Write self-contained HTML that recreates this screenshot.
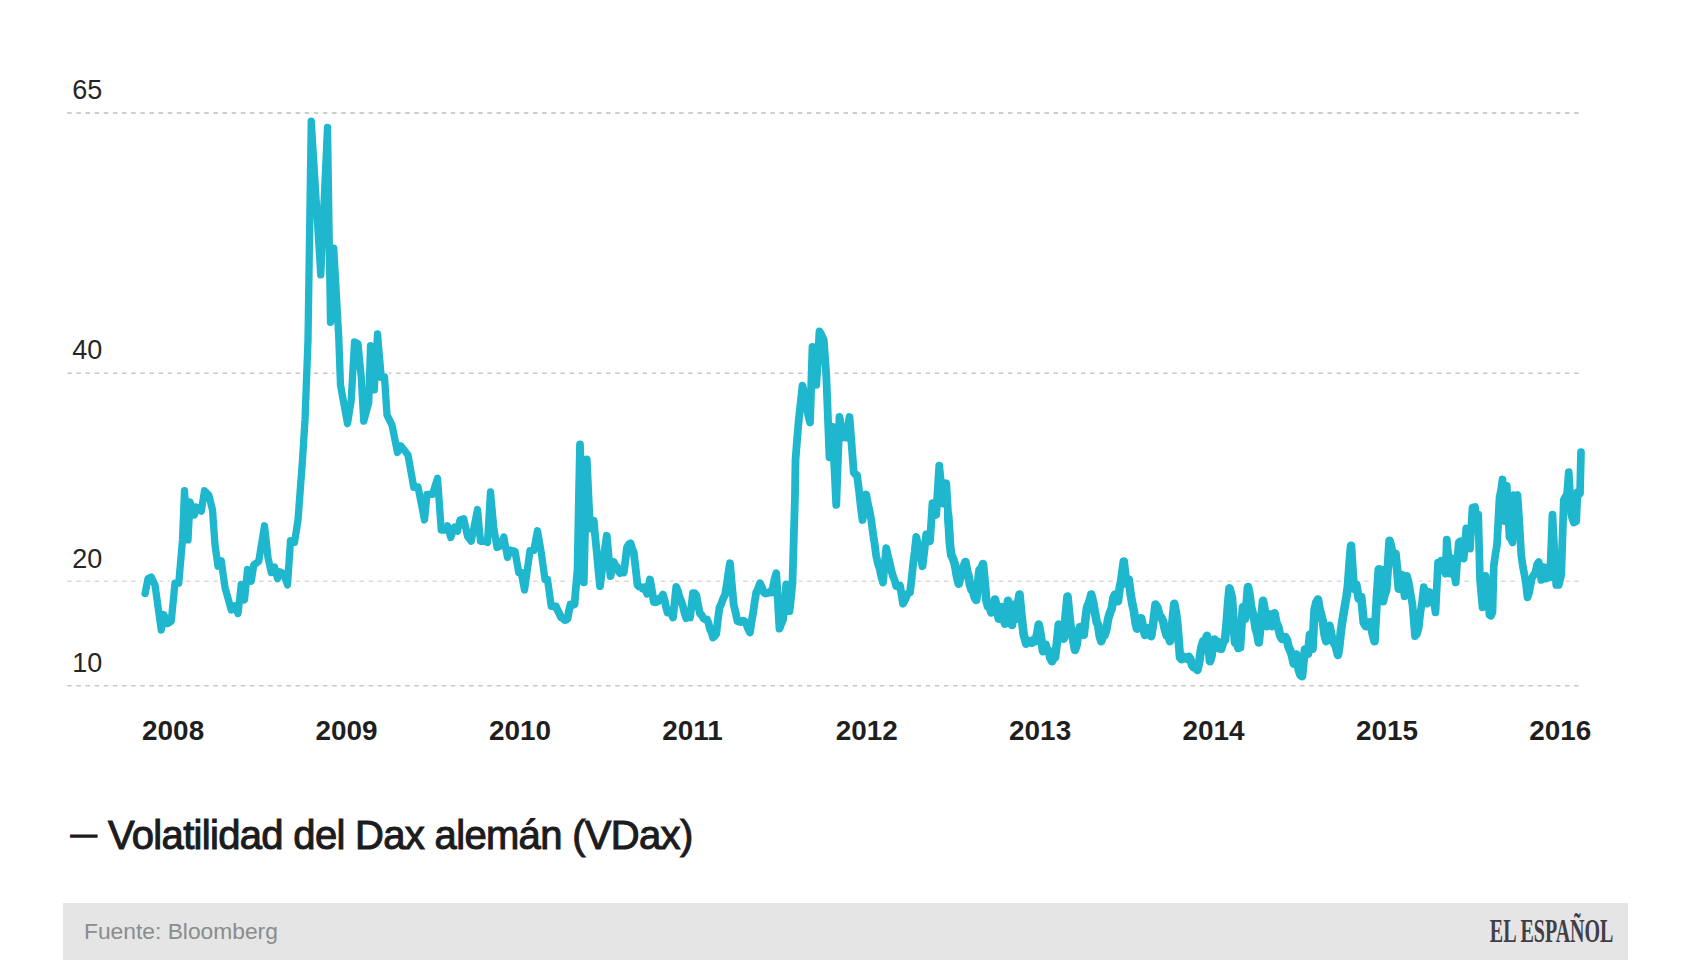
<!DOCTYPE html>
<html lang="es"><head><meta charset="utf-8"><title>Volatilidad del Dax alemán (VDax)</title>
<style>
html,body{margin:0;padding:0;background:#fff;}
body{width:1706px;height:960px;position:relative;overflow:hidden;font-family:"Liberation Sans",sans-serif;}
svg{position:absolute;left:0;top:0;}
.grid line{stroke-dasharray:4.5 4.6325;stroke-dashoffset:-0.25;}
.yl{position:absolute;left:72.3px;font-size:27px;line-height:30px;height:30px;color:#262626;white-space:nowrap;}
.yr{position:absolute;top:715.1px;font-size:27.9px;line-height:32px;font-weight:bold;color:#1f1f1f;white-space:nowrap;}
.title{position:absolute;left:108px;top:812px;font-size:40px;line-height:46px;color:#1c1c1e;white-space:nowrap;letter-spacing:-0.68px;-webkit-text-stroke:1.05px #1c1c1e;}
.dash{position:absolute;left:70.8px;top:817.8px;font-size:26px;line-height:32px;color:#1c1c1e;-webkit-text-stroke:1.5px #1c1c1e;}
.foot{position:absolute;left:63px;top:903px;width:1565px;height:57px;background:#e5e5e5;}
.src{position:absolute;left:21px;top:14px;font-size:22.8px;line-height:28px;color:#8a8c8e;white-space:nowrap;}
.logo{position:absolute;right:14.8px;top:7.2px;font-family:"Liberation Serif",serif;font-weight:bold;font-size:34.4px;line-height:40px;color:#423e48;white-space:nowrap;transform:scaleX(0.582);transform-origin:100% 50%;}
</style></head><body>
<svg width="1706" height="960" viewBox="0 0 1706 960">
<g class="grid">
<line x1="67" x2="1579" y1="113" y2="113" stroke="#bdbdbd" stroke-width="1.6"/>
<line x1="67" x2="1579" y1="373.25" y2="373.25" stroke="#c8c8c8" stroke-width="1.6"/>
<line x1="67" x2="1579" y1="581.25" y2="581.25" stroke="#ded9d7" stroke-width="1.3"/>
<line x1="67" x2="1579" y1="685.75" y2="685.75" stroke="#c8c8c8" stroke-width="1.6"/>
</g>
<polyline fill="none" stroke="#ffffff" stroke-opacity="0.85" stroke-width="12" stroke-linejoin="round" stroke-linecap="round" points="145.1,593.5 148,578.75 151.25,577 155,585 161.25,629.95 163.75,614.5 167.5,623.7 171.25,621.25 175,583.12 178.75,583.12 182.5,540 184.5,490.75 188,539.95 190,502 194.5,514.95 196.25,507 201.25,511.2 204.5,490.75 208.75,495 212.5,510 215,545 218,566.2 221.25,560.75 225,587.5 231.25,609.95 235,605.75 238,613.7 241.25,584.5 244.5,599.95 247.5,569.5 251.25,581.2 253.75,565 258.75,561.25 264.5,525.75 268,557.5 271.25,572.45 274.5,567 277.5,578.7 280,571.88 283.75,573.75 287.5,584.95 290.5,540.75 294.5,542.45 298,520 302.5,460 305,420 308,340 311.25,121.15 320.75,274.95 327.5,127.4 330.5,322.45 333.75,248.25 338.75,337.5 340.5,385 347.5,423.7 351.25,400 354.5,341.88 358,343.75 361.25,377.5 363.75,421.2 368.75,402.5 370.5,345.75 374.25,389.95 377.5,334 381.25,377.45 384.5,376.88 387,415 392,425 397.5,452.45 400.75,445.75 408,455 413.75,487.45 418,486.88 424.5,519.95 427,494.38 432.5,494.38 437.5,478.25 441.25,530 445.5,530 447.5,525.75 450.75,537.45 454.5,527 457.5,531.2 460,520 463.75,518.75 467.5,536.25 471.25,541.2 477.5,509.5 480.5,541.25 485,541.25 487.5,542.45 490.5,492 493.75,527.5 497,547.5 500,546.25 503.75,537 507.5,557.45 510,550 515,551.25 518.75,572.5 521.25,572.5 524.5,589.95 530,550.62 533.75,550.62 537.5,530.75 541.25,552.5 545,579.38 547.5,579.38 551.25,606.25 556,606.25 556.25,607.5 561.25,617.5 562.88,618.15 564.5,620 566,619.88 567.5,618.75 569,610.78 570.5,604.38 572.5,604.84 574.5,604.38 576,586.47 577.5,570 580,444.5 581.88,514.1 583.75,582.45 585.25,520.52 586.75,459.5 588.38,494.8 590,528.7 591.88,524.28 593.75,520.75 595.31,537.78 596.88,553.02 598.44,570.31 600,586.2 601.69,572.93 603.38,561.86 605.06,547.87 606.75,535.75 608.62,556.52 610.5,576.2 612.12,568.33 613.75,562 615.31,565.73 616.88,566.82 618.44,570.98 620,573.12 621.88,571.84 623.75,572.5 625.38,560.45 627,547.5 628.75,544.47 630.5,543.25 632.12,548.46 633.75,552.5 635.62,568.25 637.5,585 639.17,586.72 640.83,586.87 642.5,588.7 645,587 647,593.7 648.5,587.48 650,579.5 651.88,590.17 653.75,601.88 655.88,602.31 658,601.25 659.67,598.22 661.33,597.38 663,594.5 664.5,599.76 666,606.92 667.5,612.45 670,610.75 671.5,613.65 673,617.45 674.62,602.76 676.25,587 677.92,590.95 679.58,597.16 681.25,601.25 682.92,606.28 684.58,613.24 686.25,618.12 688.12,617.14 690,617.5 691.5,605.9 693,593.12 694.62,593.2 696.25,595 698.12,605.19 700,613.75 701.67,615.07 703.33,618.25 705,619.38 707,619.38 708.5,623.18 710,629.33 711.5,632.1 713,637.45 714.62,636.18 716.25,633.75 717.88,619.66 719.5,607.5 721.33,603.82 723.17,598.51 725,595 726.67,585.26 728.33,573.33 730,563.25 731.88,584.82 733.75,605 735.62,612.68 737.5,621.25 740,621.88 741.5,622.04 743,620.62 744.62,621.34 746.25,623.75 748.12,628.84 750,632.45 751.56,621.55 753.12,613.07 754.69,601.68 756.25,592.5 758.12,588.63 760,583.25 761.88,587.13 763.75,592.5 765.62,593.49 767.5,593.12 769.38,591.92 771.25,592.5 772.92,587.03 774.58,578.98 776.25,573.25 777.88,601.77 779.5,628.7 781.25,623.9 783,620 784.62,603.06 786.25,584.5 787.88,597.07 789.5,611.2 791,597.83 792.5,582.5 795,495 795.5,460 797.12,439.12 798.75,420 800.62,403.45 802.5,385.75 804.38,394.74 806.25,405 808.12,414.52 810,422.45 812.5,347 814.38,365.54 816.25,384.95 817.88,358.9 819.5,331.5 821.62,335.24 823.75,340 826.25,375 827.88,416.71 829.5,457.45 831,441.77 832.5,427 834.38,466.83 836.25,504.95 837.88,460.48 839.5,417 841.25,427.81 843,437.5 844.62,436.86 846.25,437.5 847.88,428.16 849.5,417 851.62,444.28 853.75,472.5 855.38,474.42 857,475 858.83,489.26 860.67,505.88 862.5,519.95 864.38,506.35 866.25,494.5 867.92,503.9 869.58,510.92 871.25,520 872.92,532.74 874.58,543.55 876.25,556.25 877.94,563.72 879.62,568.39 881.31,576.4 883,582.45 884.62,564.83 886.25,548.25 887.92,556.05 889.58,562.2 891.25,570 892.92,576.09 894.58,580.05 896.25,586.2 898.12,586.48 900,585.62 901.5,594.24 903,603.7 905,600 907,595 908.5,593.12 910,592.5 911.56,579.36 913.12,563.8 914.69,551.68 916.25,537 917.81,543.59 919.38,552.37 920.94,558.1 922.5,566.2 924.38,550.8 926.25,534.5 928.12,536.93 930,541.2 932.5,503.25 934.38,509.96 936.25,514.95 937.75,489.44 939.25,465.75 941.12,485.59 943,503.7 944.62,492.84 946.25,483.25 948.12,514.77 950,545 951.25,555 953.12,558.84 955,565 956.88,576.23 958.75,583.7 960.44,577.17 962.12,573.96 963.81,566.12 965.5,562 967,570.91 968.5,575.85 970,585 971.56,589.83 973.12,591.45 974.69,597.44 976.25,599.95 977.88,583.82 979.5,570 981.25,568.51 983,564 984.62,580.95 986.25,600 987.92,606.36 989.58,606.44 991.25,612.45 993.12,607.2 995,599.5 996.88,607.74 998.75,618.7 1001.25,607 1003.12,616.84 1005,623.7 1006.5,610.71 1008,600.75 1010,614.04 1012,624.95 1014.5,604.5 1016.25,618.7 1017.88,604.43 1019.5,594.5 1021.62,617.12 1023.75,635 1026.25,643.7 1028.12,640.82 1030,641.25 1031.83,642.93 1033.67,640.11 1035.5,641.25 1037.12,634.03 1038.75,624.5 1040.88,636.36 1043,651.2 1045.5,644.5 1047.12,650.06 1048.75,650.7 1050.38,658.26 1052,661.2 1053.5,658.3 1055,657.5 1056.88,643.31 1058.75,624.5 1060.42,627.49 1062.08,635.19 1063.75,638.7 1065.62,615.84 1067.5,596.5 1069.38,615.56 1071.25,632.5 1073.12,639.49 1075,649.95 1076.67,644.65 1078.33,632.46 1080,627 1081.88,632.94 1083.75,634.95 1085.38,619.85 1087,607.5 1089.12,602.52 1091.25,594.5 1093.12,602.25 1095,612.5 1096.56,621.74 1098.12,625.11 1099.69,636.1 1101.25,641.2 1102.92,636 1104.58,635.06 1106.25,630 1108.12,619.13 1110,612.5 1111.67,608.86 1113.33,598.32 1115,594.5 1116.5,599.97 1118,601.2 1119.62,588.47 1121.25,580 1123.75,561.5 1126.25,583.7 1128.75,579.5 1130.62,594.28 1132.5,605 1134,611.57 1135.5,622.52 1137,628.7 1139.12,621.97 1141.25,618.25 1143.12,627.66 1145,634.95 1147.5,628.25 1149.38,631.17 1151.25,636.2 1153.38,621.75 1155.5,604.5 1157.42,607.46 1159.33,615.13 1161.25,617.5 1163.12,621.43 1165,630 1166.67,635.36 1168.33,635.17 1170,641.2 1172.12,624.84 1174.25,603.75 1175.88,612.06 1177.5,625 1180,657.5 1181.67,659.22 1183.33,656.59 1185,658.12 1186.88,658.83 1188.75,656.88 1190.42,659.13 1192.08,665.26 1193.75,667.5 1195.62,666.86 1197.5,669.95 1199.38,660.97 1201.25,647.5 1203.17,641.42 1205.08,641.34 1207,635.75 1208.5,646.57 1210,661.2 1211.5,656.07 1213,645.6 1214.5,639.5 1216.19,643.72 1217.88,641.84 1219.56,648.48 1221.25,648.7 1223.12,642.31 1225,640 1226.5,624.42 1228,604.24 1229.5,588.25 1232,597.5 1233.5,622.09 1235,642.5 1236.67,642.68 1238.33,647.91 1240,647.45 1241.5,624.88 1243,607 1245,618.7 1246.5,604.41 1248,587 1249.5,593.93 1251,606.31 1252.5,612.5 1254.06,617.98 1255.62,628.73 1257.19,633.77 1258.75,642.45 1260.88,622.83 1263,600.75 1265,611.22 1267,626.2 1269.5,614.5 1272,626.2 1274.5,613.25 1276.33,622.62 1278.17,626.53 1280,635 1281.88,639.02 1283.75,638.75 1285.38,637.02 1287,640 1288.5,646.91 1290,650 1291.88,655.35 1293.75,663.7 1296.25,654.5 1298.75,670 1300.38,674.87 1302,676.2 1303.5,661.65 1305,649.5 1306.5,652.64 1308,653.7 1310,634.5 1312.5,648.7 1314.5,610 1316.25,602.41 1318,599.5 1319.62,609.15 1321.25,615 1322.92,622 1324.58,634.76 1326.25,641.2 1327.88,631.87 1329.5,625.75 1331.62,636.33 1333.75,642.5 1335.88,646.58 1338,654.95 1339.5,644.61 1341,630.29 1342.5,620 1345,605 1346.5,596.42 1348,585 1349.5,564.03 1351,545.75 1353.75,588.7 1356.25,584.5 1358.75,598.7 1361.25,597 1363.75,622.5 1365.62,626.17 1367.5,626.2 1369,622.73 1370.5,622 1372.5,633.19 1374.5,641.2 1377,595 1378.75,569.38 1381.25,570 1383,601.2 1384.62,594.4 1386.25,590 1387.88,567.63 1389.5,540.75 1391,545.75 1392.5,553.75 1394,555.39 1395.5,553.75 1397.12,569.41 1398.75,588.7 1400.38,583.85 1402,574.5 1404.5,596.2 1407,575.75 1408.5,581.28 1410,590 1412.5,605 1415,636.2 1416.88,634.12 1418.75,627.5 1420.42,612.3 1422.08,602.24 1423.75,587 1425.62,593.62 1427.5,603.7 1429.5,592 1431,594.55 1432.5,595 1434,602.11 1435.5,612.45 1438,562.5 1439.5,563.35 1441,560.64 1442.5,561.25 1444,569.58 1445.5,573.7 1446.75,539.5 1448.38,555.35 1450,573.7 1452,558.25 1453.88,572.01 1455.75,582.45 1457.25,560.47 1458.75,542.5 1460.5,541.25 1462.12,551.75 1463.75,558.7 1466.25,528.25 1468.12,537.01 1470,548.7 1472.5,507.5 1475,506.88 1477,528.7 1478.25,514.5 1480,580 1482.5,607.45 1484,593.32 1485.5,575.75 1487.5,593.57 1489.5,614.95 1491,615.81 1492.5,612.5 1493.75,566.25 1495.38,554.46 1497,545 1499.5,497.5 1501,490.28 1502.5,479.5 1505,521.2 1506.75,485.75 1509.5,537.5 1511,538.62 1512.5,542.45 1513.75,495 1515.62,496.4 1517.5,495 1519.38,522.93 1521.25,555 1522.88,566.71 1524.5,575 1526,584.44 1527.5,597.45 1529,593.28 1530.5,585 1532.12,577.74 1533.75,575 1535.42,572.29 1537.08,564.48 1538.75,562 1541.25,579.95 1543.75,567 1546.25,578.7 1548.75,567 1550,577.45 1552.5,514.5 1554.38,551.46 1556.25,585 1558.75,585 1561.25,575 1563.75,500 1565.25,497.03 1566.75,497.5 1568.75,472 1571.25,515 1573.75,522.5 1576.25,521.25 1577.5,492 1580,493.7 1581,452"/>
<polyline fill="none" stroke="#1eb7cd" stroke-width="7.3" stroke-linejoin="round" stroke-linecap="round" points="145.1,593.5 148,578.75 151.25,577 155,585 161.25,629.95 163.75,614.5 167.5,623.7 171.25,621.25 175,583.12 178.75,583.12 182.5,540 184.5,490.75 188,539.95 190,502 194.5,514.95 196.25,507 201.25,511.2 204.5,490.75 208.75,495 212.5,510 215,545 218,566.2 221.25,560.75 225,587.5 231.25,609.95 235,605.75 238,613.7 241.25,584.5 244.5,599.95 247.5,569.5 251.25,581.2 253.75,565 258.75,561.25 264.5,525.75 268,557.5 271.25,572.45 274.5,567 277.5,578.7 280,571.88 283.75,573.75 287.5,584.95 290.5,540.75 294.5,542.45 298,520 302.5,460 305,420 308,340 311.25,121.15 320.75,274.95 327.5,127.4 330.5,322.45 333.75,248.25 338.75,337.5 340.5,385 347.5,423.7 351.25,400 354.5,341.88 358,343.75 361.25,377.5 363.75,421.2 368.75,402.5 370.5,345.75 374.25,389.95 377.5,334 381.25,377.45 384.5,376.88 387,415 392,425 397.5,452.45 400.75,445.75 408,455 413.75,487.45 418,486.88 424.5,519.95 427,494.38 432.5,494.38 437.5,478.25 441.25,530 445.5,530 447.5,525.75 450.75,537.45 454.5,527 457.5,531.2 460,520 463.75,518.75 467.5,536.25 471.25,541.2 477.5,509.5 480.5,541.25 485,541.25 487.5,542.45 490.5,492 493.75,527.5 497,547.5 500,546.25 503.75,537 507.5,557.45 510,550 515,551.25 518.75,572.5 521.25,572.5 524.5,589.95 530,550.62 533.75,550.62 537.5,530.75 541.25,552.5 545,579.38 547.5,579.38 551.25,606.25 556,606.25 556.25,607.5"/>
<polyline fill="none" stroke="#1eb7cd" stroke-width="7.8" stroke-linejoin="round" stroke-linecap="round" points="556.25,607.5 561.25,617.5 562.88,618.15 564.5,620 566,619.88 567.5,618.75 569,610.78 570.5,604.38 572.5,604.84 574.5,604.38 576,586.47 577.5,570 580,444.5 581.88,514.1 583.75,582.45 585.25,520.52 586.75,459.5 588.38,494.8 590,528.7 591.88,524.28 593.75,520.75 595.31,537.78 596.88,553.02 598.44,570.31 600,586.2 601.69,572.93 603.38,561.86 605.06,547.87 606.75,535.75 608.62,556.52 610.5,576.2 612.12,568.33 613.75,562 615.31,565.73 616.88,566.82 618.44,570.98 620,573.12 621.88,571.84 623.75,572.5 625.38,560.45 627,547.5 628.75,544.47 630.5,543.25 632.12,548.46 633.75,552.5 635.62,568.25 637.5,585 639.17,586.72 640.83,586.87 642.5,588.7 645,587 647,593.7 648.5,587.48 650,579.5 651.88,590.17 653.75,601.88 655.88,602.31 658,601.25 659.67,598.22 661.33,597.38 663,594.5 664.5,599.76 666,606.92 667.5,612.45 670,610.75 671.5,613.65 673,617.45 674.62,602.76 676.25,587 677.92,590.95 679.58,597.16 681.25,601.25 682.92,606.28 684.58,613.24 686.25,618.12 688.12,617.14 690,617.5 691.5,605.9 693,593.12 694.62,593.2 696.25,595 698.12,605.19 700,613.75 701.67,615.07 703.33,618.25 705,619.38 707,619.38 708.5,623.18 710,629.33 711.5,632.1 713,637.45 714.62,636.18 716.25,633.75 717.88,619.66 719.5,607.5 721.33,603.82 723.17,598.51 725,595 726.67,585.26 728.33,573.33 730,563.25 731.88,584.82 733.75,605 735.62,612.68 737.5,621.25 740,621.88 741.5,622.04 743,620.62 744.62,621.34 746.25,623.75 748.12,628.84 750,632.45 751.56,621.55 753.12,613.07 754.69,601.68 756.25,592.5 758.12,588.63 760,583.25 761.88,587.13 763.75,592.5 765.62,593.49 767.5,593.12 769.38,591.92 771.25,592.5 772.92,587.03 774.58,578.98 776.25,573.25 777.88,601.77 779.5,628.7 781.25,623.9 783,620 784.62,603.06 786.25,584.5 787.88,597.07 789.5,611.2 791,597.83 792.5,582.5 795,495 795.5,460 797.12,439.12 798.75,420 800.62,403.45 802.5,385.75 804.38,394.74 806.25,405 808.12,414.52 810,422.45 812.5,347 814.38,365.54 816.25,384.95 817.88,358.9 819.5,331.5 821.62,335.24 823.75,340 826.25,375 827.88,416.71 829.5,457.45 831,441.77 832.5,427 834.38,466.83 836.25,504.95 837.88,460.48 839.5,417 841.25,427.81 843,437.5 844.62,436.86 846.25,437.5 847.88,428.16 849.5,417 851.62,444.28 853.75,472.5 855.38,474.42 857,475 858.83,489.26 860.67,505.88 862.5,519.95 864.38,506.35 866.25,494.5 867.92,503.9 869.58,510.92 871.25,520 872.92,532.74 874.58,543.55 876.25,556.25 877.94,563.72 879.62,568.39 881.31,576.4 883,582.45 884.62,564.83 886.25,548.25 887.92,556.05 889.58,562.2 891.25,570 892.92,576.09 894.58,580.05 896.25,586.2 898.12,586.48 900,585.62 901.5,594.24 903,603.7 905,600 907,595 908.5,593.12 910,592.5 911.56,579.36 913.12,563.8 914.69,551.68 916.25,537 917.81,543.59 919.38,552.37 920.94,558.1 922.5,566.2 924.38,550.8 926.25,534.5 928.12,536.93 930,541.2 932.5,503.25 934.38,509.96 936.25,514.95 937.75,489.44 939.25,465.75 941.12,485.59 943,503.7 944.62,492.84 946.25,483.25 948.12,514.77 950,545"/>
<polyline fill="none" stroke="#1eb7cd" stroke-width="8.6" stroke-linejoin="round" stroke-linecap="round" points="948.12,514.77 950,545 951.25,555 953.12,558.84 955,565 956.88,576.23 958.75,583.7 960.44,577.17 962.12,573.96 963.81,566.12 965.5,562 967,570.91 968.5,575.85 970,585 971.56,589.83 973.12,591.45 974.69,597.44 976.25,599.95 977.88,583.82 979.5,570 981.25,568.51 983,564 984.62,580.95 986.25,600 987.92,606.36 989.58,606.44 991.25,612.45 993.12,607.2 995,599.5 996.88,607.74 998.75,618.7 1001.25,607 1003.12,616.84 1005,623.7 1006.5,610.71 1008,600.75 1010,614.04 1012,624.95 1014.5,604.5 1016.25,618.7 1017.88,604.43 1019.5,594.5 1021.62,617.12 1023.75,635 1026.25,643.7 1028.12,640.82 1030,641.25 1031.83,642.93 1033.67,640.11 1035.5,641.25 1037.12,634.03 1038.75,624.5 1040.88,636.36 1043,651.2 1045.5,644.5 1047.12,650.06 1048.75,650.7 1050.38,658.26 1052,661.2 1053.5,658.3 1055,657.5 1056.88,643.31 1058.75,624.5 1060.42,627.49 1062.08,635.19 1063.75,638.7 1065.62,615.84 1067.5,596.5 1069.38,615.56 1071.25,632.5 1073.12,639.49 1075,649.95 1076.67,644.65 1078.33,632.46 1080,627 1081.88,632.94 1083.75,634.95 1085.38,619.85 1087,607.5 1089.12,602.52 1091.25,594.5 1093.12,602.25 1095,612.5 1096.56,621.74 1098.12,625.11 1099.69,636.1 1101.25,641.2 1102.92,636 1104.58,635.06 1106.25,630 1108.12,619.13 1110,612.5 1111.67,608.86 1113.33,598.32 1115,594.5 1116.5,599.97 1118,601.2 1119.62,588.47 1121.25,580 1123.75,561.5 1126.25,583.7 1128.75,579.5 1130.62,594.28 1132.5,605 1134,611.57 1135.5,622.52 1137,628.7 1139.12,621.97 1141.25,618.25 1143.12,627.66 1145,634.95 1147.5,628.25 1149.38,631.17 1151.25,636.2 1153.38,621.75 1155.5,604.5 1157.42,607.46 1159.33,615.13 1161.25,617.5 1163.12,621.43 1165,630 1166.67,635.36 1168.33,635.17 1170,641.2 1172.12,624.84 1174.25,603.75 1175.88,612.06 1177.5,625 1180,657.5 1181.67,659.22 1183.33,656.59 1185,658.12 1186.88,658.83 1188.75,656.88 1190.42,659.13 1192.08,665.26 1193.75,667.5 1195.62,666.86 1197.5,669.95 1199.38,660.97 1201.25,647.5 1203.17,641.42 1205.08,641.34 1207,635.75 1208.5,646.57 1210,661.2 1211.5,656.07 1213,645.6 1214.5,639.5 1216.19,643.72 1217.88,641.84 1219.56,648.48 1221.25,648.7 1223.12,642.31 1225,640 1226.5,624.42 1228,604.24 1229.5,588.25 1232,597.5 1233.5,622.09 1235,642.5 1236.67,642.68 1238.33,647.91 1240,647.45 1241.5,624.88 1243,607 1245,618.7 1246.5,604.41 1248,587 1249.5,593.93 1251,606.31 1252.5,612.5 1254.06,617.98 1255.62,628.73 1257.19,633.77 1258.75,642.45 1260.88,622.83 1263,600.75 1265,611.22 1267,626.2 1269.5,614.5 1272,626.2 1274.5,613.25 1276.33,622.62 1278.17,626.53 1280,635 1281.88,639.02 1283.75,638.75 1285.38,637.02 1287,640 1288.5,646.91 1290,650 1291.88,655.35 1293.75,663.7 1296.25,654.5 1298.75,670 1300.38,674.87 1302,676.2 1303.5,661.65 1305,649.5 1306.5,652.64 1308,653.7 1310,634.5 1312.5,648.7 1314.5,610 1316.25,602.41 1318,599.5 1319.62,609.15 1321.25,615 1322.92,622 1324.58,634.76 1326.25,641.2 1327.88,631.87 1329.5,625.75 1331.62,636.33 1333.75,642.5 1335.88,646.58 1338,654.95 1339.5,644.61 1341,630.29 1342.5,620 1345,605 1346.5,596.42 1348,585 1349.5,564.03 1351,545.75 1353.75,588.7 1356.25,584.5 1358.75,598.7 1361.25,597 1363.75,622.5 1365.62,626.17 1367.5,626.2 1369,622.73 1370.5,622 1372.5,633.19 1374.5,641.2 1377,595 1378.75,569.38 1381.25,570 1383,601.2 1384.62,594.4 1386.25,590 1387.88,567.63 1389.5,540.75 1391,545.75 1392.5,553.75 1394,555.39 1395.5,553.75 1397.12,569.41 1398.75,588.7"/>
<polyline fill="none" stroke="#1eb7cd" stroke-width="7.7" stroke-linejoin="round" stroke-linecap="round" points="1398.75,588.7 1400.38,583.85 1402,574.5 1404.5,596.2 1407,575.75 1408.5,581.28 1410,590 1412.5,605 1415,636.2 1416.88,634.12 1418.75,627.5 1420.42,612.3 1422.08,602.24 1423.75,587 1425.62,593.62 1427.5,603.7 1429.5,592 1431,594.55 1432.5,595 1434,602.11 1435.5,612.45 1438,562.5 1439.5,563.35 1441,560.64 1442.5,561.25 1444,569.58 1445.5,573.7 1446.75,539.5 1448.38,555.35 1450,573.7 1452,558.25 1453.88,572.01 1455.75,582.45 1457.25,560.47 1458.75,542.5 1460.5,541.25 1462.12,551.75 1463.75,558.7 1466.25,528.25 1468.12,537.01 1470,548.7 1472.5,507.5 1475,506.88 1477,528.7 1478.25,514.5 1480,580 1482.5,607.45 1484,593.32 1485.5,575.75 1487.5,593.57 1489.5,614.95 1491,615.81 1492.5,612.5 1493.75,566.25 1495.38,554.46 1497,545 1499.5,497.5 1501,490.28 1502.5,479.5 1505,521.2 1506.75,485.75 1509.5,537.5 1511,538.62 1512.5,542.45 1513.75,495 1515.62,496.4 1517.5,495 1519.38,522.93 1521.25,555 1522.88,566.71 1524.5,575 1526,584.44 1527.5,597.45 1529,593.28 1530.5,585 1532.12,577.74 1533.75,575 1535.42,572.29 1537.08,564.48 1538.75,562 1541.25,579.95 1543.75,567 1546.25,578.7 1548.75,567 1550,577.45 1552.5,514.5 1554.38,551.46 1556.25,585 1558.75,585 1561.25,575 1563.75,500 1565.25,497.03 1566.75,497.5 1568.75,472 1571.25,515 1573.75,522.5 1576.25,521.25 1577.5,492 1580,493.7 1581,452"/>
</svg>
<div class="yl" style="top:74.75px">65</div>
<div class="yl" style="top:335.00px">40</div>
<div class="yl" style="top:544.00px">20</div>
<div class="yl" style="top:647.80px">10</div>
<div class="yr" style="left:142.1px">2008</div>
<div class="yr" style="left:315.5px">2009</div>
<div class="yr" style="left:488.9px">2010</div>
<div class="yr" style="left:662.3px">2011</div>
<div class="yr" style="left:835.7px">2012</div>
<div class="yr" style="left:1009.1px">2013</div>
<div class="yr" style="left:1182.5px">2014</div>
<div class="yr" style="left:1355.9px">2015</div>
<div class="yr" style="left:1529.3px">2016</div>
<div class="dash">—</div>
<div class="title">Volatilidad del Dax alemán (VDax)</div>
<div class="foot"><div class="src">Fuente: Bloomberg</div><div class="logo">EL ESPAÑOL</div></div>
</body></html>
